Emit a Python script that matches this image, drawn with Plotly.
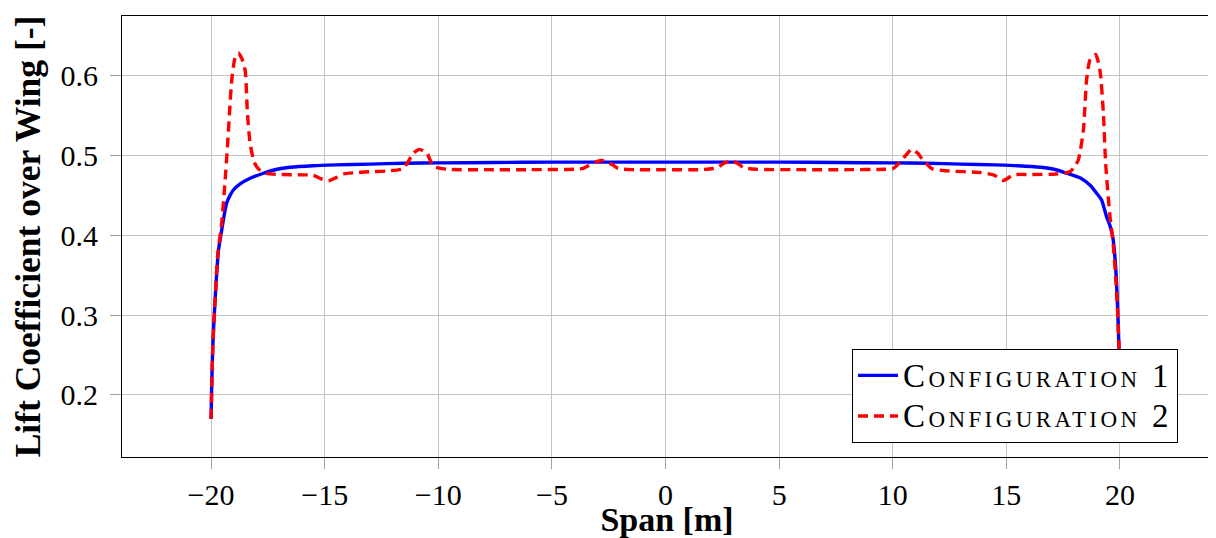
import plotly.graph_objects as go

# Configuration 1 (solid blue)
x1 = [-20.0, -19.97, -19.93, -19.9, -19.85, -19.78, -19.68, -19.6, -19.53, -19.42,
      -19.31, -19.17, -19.02, -18.72, -18.28, -17.7, -17.1, -16.52, -15.5, -14.5,
      -13.0, -11.5, -10.0, -7.5, -5.0, -2.5, 0.0, 2.5, 5.0, 7.5,
      10.0, 11.5, 13.0, 14.5, 15.5, 16.52, 17.1, 17.66, 18.28, 18.72,
      18.97, 19.19, 19.41, 19.55, 19.63, 19.7, 19.78, 19.85, 19.92, 19.97, 20.0]
y1 = [0.170, 0.215, 0.255, 0.277, 0.305, 0.340, 0.380, 0.395, 0.407, 0.426,
      0.441, 0.450, 0.457, 0.4646, 0.4717, 0.478, 0.483, 0.4855, 0.4875, 0.4885,
      0.4895, 0.4905, 0.491, 0.4915, 0.492, 0.492, 0.492, 0.492, 0.492, 0.4915,
      0.491, 0.4905, 0.4895, 0.4885, 0.4875, 0.4855, 0.483, 0.478, 0.4717, 0.462,
      0.453, 0.4445, 0.4236, 0.413, 0.405, 0.395, 0.372, 0.340, 0.290, 0.245, 0.170]

# Configuration 2 (dashed red)
x2 = [-20.0, -19.93, -19.85, -19.7, -19.53, -19.38, -19.28, -19.19, -19.09, -18.95,
      -18.8, -18.65, -18.5, -18.4, -18.28, -18.1, -17.9, -17.55, -17.0, -16.0,
      -15.5, -15.15, -14.84, -14.5, -14.18, -13.5, -13.0, -12.2, -11.54, -11.1,
      -10.83, -10.5, -10.22, -9.63, -8.0, -6.0, -4.0, -3.63, -3.3, -3.03,
      -2.8, -2.59, -2.3, -2.08, -1.5, 0.0, 1.5, 2.08, 2.33, 2.6,
      2.91, 3.2, 3.43, 4.0, 6.0, 8.0, 9.63, 10.02, 10.47, 10.83,
      11.1, 11.27, 11.71, 12.4, 13.84, 14.43, 14.87, 15.31, 16.0, 17.2,
      17.8, 18.0, 18.17, 18.39, 18.53, 18.68, 18.93, 19.12, 19.27, 19.37,
      19.56, 19.7, 19.85, 19.97, 20.0]
y2 = [0.170, 0.255, 0.305, 0.378, 0.416, 0.470, 0.511, 0.553, 0.595, 0.622,
      0.629, 0.622, 0.607, 0.553, 0.515, 0.492, 0.483, 0.478, 0.4765, 0.476,
      0.4755, 0.471, 0.4685, 0.4725, 0.477, 0.479, 0.480, 0.481, 0.484, 0.503,
      0.508, 0.503, 0.487, 0.483, 0.4825, 0.4825, 0.483, 0.484, 0.489, 0.4925,
      0.494, 0.4925, 0.488, 0.484, 0.4825, 0.4825, 0.4825, 0.484, 0.486, 0.491,
      0.4935, 0.490, 0.485, 0.483, 0.4825, 0.4825, 0.483, 0.484, 0.497, 0.508,
      0.503, 0.497, 0.484, 0.481, 0.479, 0.476, 0.469, 0.476, 0.4765, 0.477,
      0.480, 0.486, 0.495, 0.532, 0.595, 0.620, 0.627, 0.607, 0.553, 0.490,
      0.424, 0.390, 0.330, 0.250, 0.170]

series_names = ["Configuration 1", "Configuration 2"]
x_ticks = [-20, -15, -10, -5, 0, 5, 10, 15, 20]
y_ticks = [0.2, 0.3, 0.4, 0.5, 0.6]

FONT = "Liberation Serif"

def legend_label(s):
    return "<span style='font-size:33px;letter-spacing:3.4px'>" + s + "</span>"

fig = go.Figure()
fig.add_trace(go.Scatter(x=x1, y=y1, mode="lines", name=legend_label(series_names[0]),
                         line=dict(color="#0000ff", width=3.4, shape="spline", smoothing=0.6)))
fig.add_trace(go.Scatter(x=x2, y=y2, mode="lines", name=legend_label(series_names[1]),
                         line=dict(color="#ff0000", width=3.4, dash="10px,6px", shape="spline", smoothing=0.6)))

axis_common = dict(showline=True, linecolor="black", linewidth=1, mirror=True,
                   showgrid=True, gridcolor="#c4c4c4", gridwidth=1,
                   ticks="outside", ticklen=11, tickcolor="#a0a0a0", tickwidth=1,
                   zeroline=False, automargin=False,
                   tickfont=dict(family=FONT, size=30, color="black"))

fig.update_xaxes(range=[-23.92, 24.05], tickvals=x_ticks, **axis_common,
                 title=dict(text="<b>Span [m]</b>", font=dict(family=FONT, size=34, color="black"), standoff=3))
fig.update_yaxes(range=[0.1222, 0.6752], tickvals=y_ticks, tickformat=".1f", **axis_common,
                 ticklabelstandoff=6,
                 title=dict(text="<b>Lift Coefficient over Wing [-]</b>", font=dict(family=FONT, size=35.5, color="black"), standoff=14))

# the page body adds an 8px offset, so the figure is 8px smaller and margins compensate
fig.update_layout(
    width=1208, height=530,
    margin=dict(l=114, r=4, t=8, b=81),
    paper_bgcolor="white", plot_bgcolor="white",
    showlegend=True,
    legend=dict(x=0.9688, y=0.0317, xanchor="right", yanchor="bottom",
                bgcolor="white", bordercolor="black", borderwidth=1,
                font=dict(family=FONT, size=29, color="black", variant="small-caps"),
                tracegroupgap=0, itemwidth=40),
)

fig.write_html("out.html")
